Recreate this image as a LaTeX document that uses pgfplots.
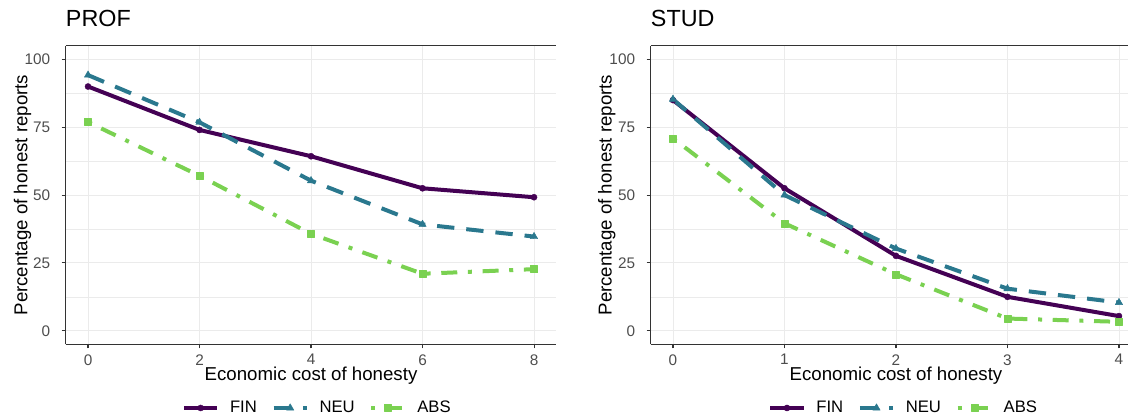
\documentclass[border=0pt]{standalone}
\usepackage{fontspec}
\setmainfont{Liberation Sans}
\usepackage{pgfplots}
\pgfplotsset{compat=1.18}
\definecolor{cfin}{HTML}{440154}
\definecolor{cneu}{HTML}{2A788E}
\definecolor{cabs}{HTML}{7AD151}
\definecolor{gridc}{HTML}{EBEBEB}
\definecolor{borderc}{HTML}{333333}
\definecolor{tickc}{HTML}{4D4D4D}

\pgfplotsset{
 panel/.style={
  scale only axis, height=223.9pt,
  ymin=-5, ymax=105, ytick={0,25,50,75,100}, minor y tick num=1,
  ymajorgrids, yminorgrids, xmajorgrids,
  major grid style={gridc, line width=0.7pt},
  minor grid style={gridc, line width=0.5pt},
  axis x line*=box, axis y line*=left,
  axis line style={borderc, line width=0.8pt},
  tick style={borderc, line width=0.8pt},
  major tick length=3pt, minor tick length=0pt,
  tick align=outside,
  xtick pos=left, ytick pos=left,
  ticklabel style={font=\fontsize{11.5}{12}\selectfont, text=tickc},
  /pgf/number format/assume math mode=true,
  xticklabel style={inner sep=0pt, anchor=north, yshift=-4.3pt},
  yticklabel style={inner sep=0pt, anchor=east, xshift=-8.5pt},
  label style={font=\fontsize{14}{15}\selectfont},
  xlabel style={at={(axis description cs:0.5,0)}, anchor=base, yshift=-27.5pt, inner sep=0pt},
  title style={font=\fontsize{17.5}{18}\selectfont, at={(axis description cs:0,1)}, anchor=base west, yshift=8.1pt, inner sep=0pt},
  xlabel={Economic cost of honesty},
  ylabel={Percentage of honest reports},
  legend columns=3,
  legend style={draw=none, fill=none, font=\fontsize{12.5}{13}\selectfont,
    at={(axis description cs:0.5,0)}, anchor=center, yshift=-47.75pt,
    /tikz/every odd column/.append style={column sep=6pt},
    /tikz/every even column/.append style={column sep=9pt}},
  legend image code/.code={\draw[#1, mark repeat=2, mark phase=2] plot coordinates {(0pt,0pt)(12.5pt,0pt)(25pt,0pt)};},
 },
 fin/.style={cfin, line width=3pt, line join=round, mark=*, mark size=2.3pt, mark options={solid, line width=0.3pt}},
 neu/.style={cneu, line width=3pt, line join=round, dash pattern=on 13pt off 9pt, mark=triangle*, mark size=3.2pt, mark options={solid, line width=0.3pt}},
 abs/.style={cabs, line width=3pt, line join=round, dash pattern=on 3pt off 8pt on 12pt off 8pt, mark=square*, mark size=2.6pt, mark options={solid, line width=0.3pt}},
}

\begin{document}
\begin{tikzpicture}
\useasboundingbox (0,0) rectangle (846pt,312.75pt);
\begin{axis}[panel, at={(49.3pt,54.5pt)}, anchor=south west, width=367.95pt,
  xmin=-0.4, xmax=8.4, xtick={0,2,4,6,8}, title={PROF},
  legend style={xshift=5pt},
  ylabel style={at={(axis description cs:-0.088,0.5)}, anchor=center}]
\addplot[fin] coordinates {(0,90.0) (2,74.0) (4,64.3) (6,52.5) (8,49.2)};
\addlegendentry{FIN}
\addplot[neu] coordinates {(0,94.2) (2,76.8) (4,55.3) (6,39.2) (8,34.7)};
\addlegendentry{NEU}
\addplot[abs] coordinates {(0,76.9) (2,57.1) (4,35.7) (6,21.0) (8,22.7)};
\addlegendentry{ABS}
\end{axis}
\begin{axis}[panel, at={(488pt,54.5pt)}, anchor=south west, width=358pt,
  xmin=-0.2, xmax=4.081, xtick={0,1,2,3,4}, title={STUD},
  xlabel style={xshift=5pt}, legend style={xshift=11pt},
  ylabel style={at={(axis description cs:-0.092,0.5)}, anchor=center}]
\addplot[fin] coordinates {(0,85.0) (1,52.5) (2,27.6) (3,12.5) (4,5.4)};
\addlegendentry{FIN}
\addplot[neu] coordinates {(0,85.3) (1,50.0) (2,30.3) (3,15.5) (4,10.4)};
\addlegendentry{NEU}
\addplot[abs] coordinates {(0,70.9) (1,39.6) (2,20.8) (3,4.5) (4,3.3)};
\addlegendentry{ABS}
\end{axis}
\end{tikzpicture}
\end{document}
